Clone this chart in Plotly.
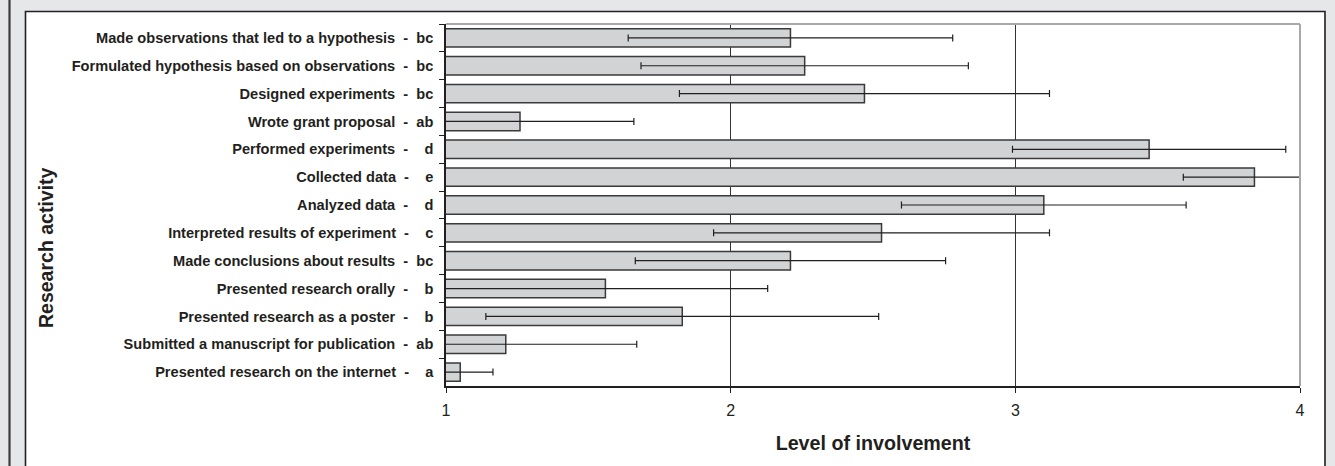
import plotly.graph_objects as go

# ---- data ----
activities = [
    "Made observations that led to a hypothesis",
    "Formulated hypothesis based on observations",
    "Designed experiments",
    "Wrote grant proposal",
    "Performed experiments",
    "Collected data",
    "Analyzed data",
    "Interpreted results of experiment",
    "Made conclusions about results",
    "Presented research orally",
    "Presented research as a poster",
    "Submitted a manuscript for publication",
    "Presented research on the internet",
]
groups = ["bc", "bc", "bc", "ab", "d", "e", "d", "c", "bc", "b", "b", "ab", "a"]
means = [2.21, 2.26, 2.47, 1.26, 3.47, 3.84, 3.10, 2.53, 2.21, 1.56, 1.83, 1.21, 1.05]
errors = [0.57, 0.575, 0.65, 0.40, 0.48, 0.25, 0.50, 0.59, 0.545, 0.57, 0.69, 0.46, 0.115]
x_ticks = [1, 2, 3, 4]
x_tick_text = ["1", "2", "3", "4"]
y_title = "Research activity"
x_title = "Level of involvement"

NB = "\u00a0"
labels = []
for name, g in zip(activities, groups):
    gap = NB * 2 if len(g) == 2 else NB * 4
    labels.append(f"{name}{NB}{NB}-{gap}{g}")

# ---- geometry (pixels) ----
W, H = 1335, 466
L, R, T, B = 446, 35, 24, 80
PW, PH = W - L - R, H - T - B


def px(x):
    return (x - L) / PW


def py(y):
    return 1 - (y - T) / PH


FONT = "Liberation Sans, Arial, sans-serif"
DARK = "#231f20"

fig = go.Figure()
fig.add_trace(go.Bar(
    y=labels,
    x=means,
    orientation="h",
    marker=dict(color="#d1d3d4", line=dict(color="#3a3a3a", width=1.5)),
    error_x=dict(type="data", array=errors, symmetric=True,
                 color=DARK, thickness=1.2, width=3.5),
    showlegend=False,
    hoverinfo="x+y",
))

shapes = [
    # outer frame line on the left
    dict(type="line", xref="paper", yref="paper",
         x0=px(9.5), x1=px(9.5), y0=py(-5), y1=py(H + 5),
         line=dict(color="#3c3c3c", width=2.2), layer="below"),
    # white inner panel
    dict(type="rect", xref="paper", yref="paper",
         x0=px(25.5), x1=px(1325), y0=py(11.5), y1=py(H + 10),
         fillcolor="white", line=dict(color=DARK, width=1.6), layer="below"),
    # plot area top and right border (gray)
    dict(type="line", xref="paper", yref="paper",
         x0=0, x1=1, y0=1, y1=1,
         line=dict(color="#a7a9ac", width=2), layer="above"),
    dict(type="line", xref="paper", yref="paper",
         x0=1, x1=1, y0=0, y1=1,
         line=dict(color="#a7a9ac", width=2), layer="above"),
]

annotations = [
    dict(text=f"<b>{y_title}</b>", xref="paper", yref="paper",
         x=px(45.5), y=py(247.5), xanchor="center", yanchor="middle",
         textangle=-90, showarrow=False,
         font=dict(size=19.5, family=FONT, color=DARK)),
]

fig.update_layout(
    width=W, height=H, autosize=False,
    margin=dict(l=L, r=R, t=T, b=B, pad=0),
    paper_bgcolor="#e6e7e8",
    plot_bgcolor="rgba(0,0,0,0)",
    bargap=0.34,
    font=dict(family=FONT, color=DARK),
    shapes=shapes,
    annotations=annotations,
    xaxis=dict(
        range=[1, 4],
        tickvals=x_ticks, ticktext=x_tick_text,
        showgrid=True, gridcolor="#333333", gridwidth=1.2,
        zeroline=False,
        showline=True, linecolor=DARK, linewidth=1.5,
        ticks="outside", ticklen=5, tickcolor=DARK, tickwidth=1.2,
        tickfont=dict(size=16, family=FONT, color=DARK),
        ticklabelstandoff=4,
        title=dict(text=f"<b>{x_title}</b>",
                   font=dict(size=19.7, family=FONT, color=DARK),
                   standoff=18),
    ),
    yaxis=dict(
        autorange="reversed",
        type="category",
        showgrid=False,
        showline=True, linecolor=DARK, linewidth=1.5,
        ticks="outside", ticklen=5, tickcolor=DARK, tickwidth=1.2,
        tickson="boundaries",
        tickfont=dict(size=14.6, family=FONT, color=DARK, weight="bold"),
        ticklabelstandoff=8,
    ),
)

fig.write_html(
    "out.html",
    config={"displayModeBar": False},
    post_script="document.body.style.margin='0';document.body.style.background='#e6e7e8';",
)
